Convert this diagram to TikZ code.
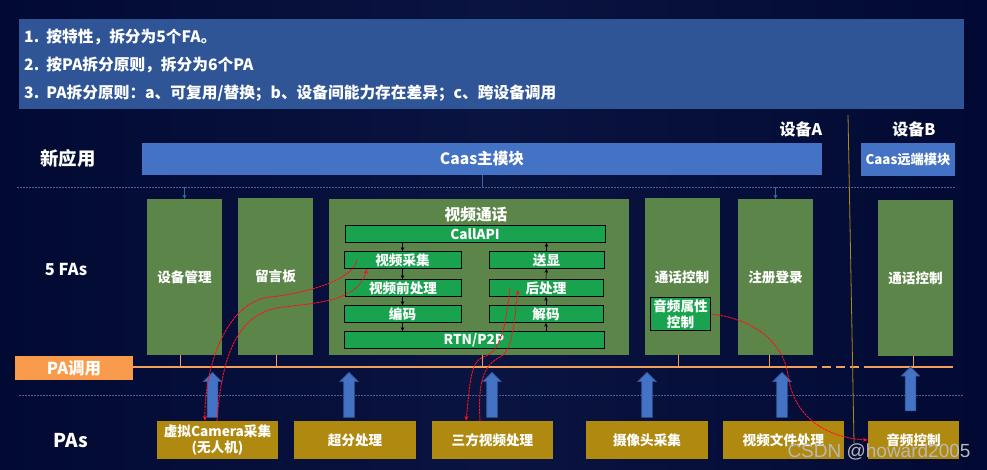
\documentclass[tikz,border=0pt]{standalone}
\usepackage{fontspec}
\setmainfont{Noto Sans CJK SC}
\newfontfamily\markfont{Liberation Sans}
\usetikzlibrary{arrows.meta,shapes.arrows}

\definecolor{navyedge}{HTML}{020A33}
\definecolor{navymid}{HTML}{0A1440}
\definecolor{notebar}{HTML}{2F5597}
\definecolor{appblue}{HTML}{4472C4}
\definecolor{fagreen}{HTML}{5C8549}
\definecolor{subgreen}{HTML}{1AA34F}
\definecolor{pagold}{HTML}{B08A10}
\definecolor{paorange}{HTML}{F99B4A}
\definecolor{busline}{HTML}{3E659F}
\definecolor{calltick}{HTML}{F0A05A}
\definecolor{redcall}{HTML}{FF1020}

\tikzset{
    every node/.style={text=white, font=\bfseries\fontsize{13.6}{16}\selectfont, inner sep=0pt, align=center},
    rowlabel/.style={font=\bfseries\fontsize{18.4}{20}\selectfont},
    notetext/.style={anchor=west, font=\bfseries\fontsize{15.7}{18}\selectfont},
    appbox/.style={fill=appblue, font=\bfseries\fontsize{15.6}{18}\selectfont},
    fabox/.style={fill=fagreen, minimum width=75, minimum height=156},
    subbox/.style={fill=subgreen, draw=black, line width=.7pt, minimum height=17},
    pabox/.style={fill=pagold, minimum height=38},
    pacall/.style={single arrow, shape border rotate=90, fill=appblue, draw=notebar, line width=.6pt,
        inner sep=5pt, minimum height=45, single arrow head extend=4pt},
    busrule/.style={busline, dashed, dash pattern=on 2pt off 1pt, line width=.8pt},
    subarrow/.style={-{Stealth[length=4pt,width=3.5pt]}, black, line width=.5pt},
    busarrow/.style={-{Stealth[length=4pt,width=4pt]}, busline, line width=.9pt},
    calltickline/.style={draw=calltick, line width=1.2pt},
    redcurve/.style={-{Stealth[length=5pt,width=4pt]}, redcall, dash pattern=on 2.5pt off .8pt, line width=.9pt}
}

\begin{document}
\begin{tikzpicture}[x=1pt,y=-1pt]
    \shade[left color=navyedge, right color=navyedge, middle color=navymid] (0,0) rectangle (987,470);
    \useasboundingbox (0,0) rectangle (987,470);

    % Notes
    \fill[notebar] (19,19) rectangle (964,109);
    \node[notetext] (noteone) at (24,37) {1.\ \ 按特性，拆分为5个FA。};
    \node[notetext] (notetwo) at (24,65) {2.\ \ 按PA拆分原则，拆分为6个PA};
    \node[notetext] (notethree) at (24,93) {3.\ \ PA拆分原则：a、可复用/替换；b、设备间能力存在差异；c、跨设备调用};

    % Row labels
    \node[rowlabel] (rowapp) at (68,158.5) {新应用};
    \node[rowlabel, font=\bfseries\fontsize{16.4}{20}\selectfont] (rowfa) at (66,269.5) {5 FAs};
    \node[rowlabel, font=\bfseries\fontsize{19}{20}\selectfont] (rowpa) at (71,441) {PAs};
    \node[notetext, anchor=center, font=\bfseries\fontsize{16}{18}\selectfont] (deva) at (801,129.5) {设备A};
    \node[notetext, anchor=center, font=\bfseries\fontsize{16}{18}\selectfont] (devb) at (914,129.5) {设备B};

    % New application
    \node[appbox, minimum width=680, minimum height=32] (caas) at (482,159) {Caas主模块};
    \node[appbox, minimum width=94, minimum height=33, font=\bfseries\fontsize{13.3}{15}\selectfont] (caasb) at (908,159.5) {Caas远端模块};

    % Dashed rules
    \coordinate (busleft) at (17,187);
    \coordinate (busright) at (955,187);
    \coordinate (lowleft) at (19,395);
    \coordinate (lowright) at (964,395);
    \draw[busrule] (busleft) -- (busright);
    \draw[busrule] (lowleft) -- (lowright);

    % FAs
    \node[fabox] (famanage) at (184.5,277) {设备管理};
    \node[fabox] (faboard) at (275.5,276.5) {留言板};
    \node[fabox, minimum width=300] (favideo) at (479,277) {};
    \node[fabox] (facall) at (682.5,276.5) {};
    \node[fabox] (faregister) at (775.5,277) {注册登录};
    \node[fabox] (faremote) at (915.5,278) {通话控制};
    \node (videotitle) at (476,214.5) {\fontsize{15.7}{18}\selectfont 视频通话};
    \node (calltitle) at (682,277) {通话控制};

    % Video call parts
    \node[subbox, minimum width=260] (callapi) at (475,234) {CallAPI};
    \node[subbox, minimum width=117] (capture) at (402.5,260) {视频采集};
    \node[subbox, minimum width=116] (preproc) at (403,288) {视频前处理};
    \node[subbox, minimum width=117] (encode) at (402.5,314) {编码};
    \node[subbox, minimum width=260] (rtn) at (474,340) {RTN/P2P};
    \node[subbox, minimum width=115] (display) at (546.5,260) {送显};
    \node[subbox, minimum width=114] (postproc) at (546,288) {后处理};
    \node[subbox, minimum width=114] (decode) at (546,314) {解码};
    \node[subbox, minimum width=60, minimum height=33] (audioattr) at (680.5,314) {音频属性\\控制};

    \draw[subarrow] (callapi.south -| capture) -- (capture.north);
    \draw[subarrow] (capture.south) -- (preproc.north -| capture);
    \draw[subarrow] (preproc.south -| capture) -- (encode.north);
    \draw[subarrow] (encode.south) -- (rtn.north -| encode);
    \draw[subarrow] (rtn.north -| decode) -- (decode.south);
    \draw[subarrow] (decode.north) -- (postproc.south);
    \draw[subarrow] (postproc.north) -- (display.south);
    \draw[subarrow] (display.north) -- (callapi.south -| display);

    \draw[busline, line width=.9pt] (caas.south) -- (busleft -| caas);
    \draw[busarrow] (busleft -| famanage) -- (famanage.north);
    \draw[busarrow] (busleft -| faregister) -- (faregister.north);

    % PA call
    \node[fill=paorange, minimum width=118, minimum height=24, font=\bfseries\fontsize{16.5}{18}\selectfont] (pacalling) at (74,368) {PA调用};
    \coordinate (lineleft) at (133,367);
    \coordinate (linegap) at (808,367);
    \coordinate (lineresume) at (868,367);
    \coordinate (lineright) at (953,367);
    \draw[calltickline] (pacalling.east |- lineleft) -- (linegap);
    \draw[calltickline, dashed, dash pattern=on 9pt off 5pt] (linegap) -- (lineresume);
    \draw[calltickline] (lineresume) -- (lineright);
    \foreach \fa/\dx in {famanage/-4.5, faboard/.5, favideo/3, facall/-4.5, faregister/-6.5, faremote/-2.5}
        \draw[calltickline, line width=.8pt] ([xshift=\dx pt]\fa.south) -- ([xshift=\dx pt]\fa.south |- lineleft);

    % PAs
    \node[pabox, minimum width=121] (pacamera) at (217.5,440) {虚拟Camera采集\\(无人机)};
    \node[pabox, minimum width=122] (pasuper) at (355,440) {超分处理};
    \node[pabox, minimum width=121] (pathird) at (492.5,440) {三方视频处理};
    \node[pabox, minimum width=122] (pacapture) at (647,440) {摄像头采集};
    \node[pabox, minimum width=121] (pafile) at (783.5,440) {视频文件处理};
    \node[pabox, minimum width=91] (paaudio) at (913.5,440) {音频控制};

    % Up arrows
    \node[pacall] (upcamera) at (212.5,397.5) {};
    \node[pacall] (upsuper) at (349,397.5) {};
    \node[pacall] (upthird) at (492,397.5) {};
    \node[pacall] (upcapture) at (647,397.5) {};
    \node[pacall] (upfile) at (782,397.5) {};
    \node[pacall, minimum height=44] (upaudio) at (910.5,391.5) {};

    % Device border
    \coordinate (bordertop) at (848,115);
    \coordinate (borderbottom) at (854,443);
    \draw[pagold, line width=.8pt] (bordertop) -- (borderbottom);

    % Red calls
    \coordinate (capfrom) at (357,260);
    \coordinate (capto) at (367,269);
    \coordinate (postfrom) at (510,288);
    \coordinate (postto) at (518,290);
    \draw[redcurve] (capfrom) .. controls (352,282) and (300,294) .. (270,297)
        .. controls (225,302) and (204,370) .. (pacamera.north -| 205,0);
    \draw[redcurve] (pacamera.north -| 217,0) .. controls (222,350) and (240,312) .. (283,307)
        .. controls (330,302) and (358,298) .. (capto);
    \draw[redcurve] (postfrom) .. controls (506,320) and (503,352) .. (483,357)
        .. controls (470,362) and (470,385) .. (pathird.north -| 466,0);
    \draw[redcurve] (pathird.north -| 480,0) .. controls (478,385) and (482,366) .. (500,357)
        .. controls (512,352) and (514,325) .. (postto);
    \draw[redcurve] (audioattr.east) .. controls (750,318) and (783,340) .. (788,375)
        .. controls (794,420) and (830,438) .. (paaudio.west);

    % Watermark
    \node[text=white!72!black, font=\markfont\fontsize{19}{22}\selectfont] (csdnmark) at (879,452) {CSDN @howard2005};
\end{tikzpicture}
\end{document}
